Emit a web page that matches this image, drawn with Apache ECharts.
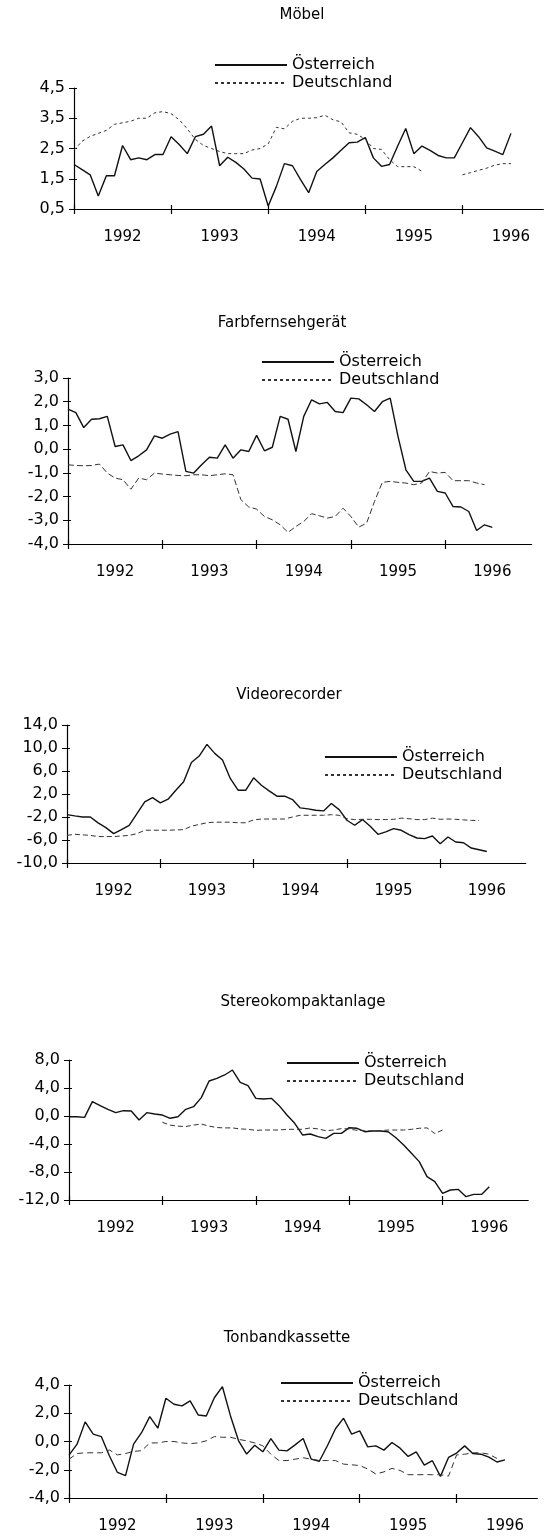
<!DOCTYPE html>
<html>
<head>
<meta charset="utf-8">
<script src="https://cdn.jsdelivr.net/npm/echarts@6/dist/echarts.min.js"></script>
<style>
html, body { margin: 0; background: #fff; }
#chart { width: 546px; height: 1538px; }
</style>
</head>
<body>
<div id="chart"></div>
<script>
const years = ['1992', '1993', '1994', '1995', '1996'];
const legendNames = ['Österreich', 'Deutschland'];
const titles = ['Möbel', 'Farbfernsehgerät', 'Videorecorder', 'Stereokompaktanlage', 'Tonbandkassette'];

// y tick labels, bottom to top
const moebelTicks = ['0,5', '1,5', '2,5', '3,5', '4,5'];
const farbTicks = ['-4,0', '-3,0', '-2,0', '-1,0', '0,0', '1,0', '2,0', '3,0'];
const videoTicks = ['-10,0', '-6,0', '-2,0', '2,0', '6,0', '10,0', '14,0'];
const stereoTicks = ['-12,0', '-8,0', '-4,0', '0,0', '4,0', '8,0'];
const tonbandTicks = ['-4,0', '-2,0', '0,0', '2,0', '4,0'];

// monthly values from Jan 1992
const moebelAT = [1.97, 1.8, 1.63, 0.93, 1.6, 1.6, 2.6, 2.13, 2.19, 2.13, 2.3, 2.3, 2.89, 2.63, 2.33, 2.89, 2.97, 3.24, 1.93, 2.21, 2.04, 1.82, 1.52, 1.49, 0.6, 1.24, 2.0, 1.93, 1.47, 1.04, 1.74, 1.97, 2.19, 2.44, 2.69, 2.71, 2.86, 2.19, 1.91, 1.97, 2.58, 3.16, 2.33, 2.58, 2.44, 2.27, 2.19, 2.19, 2.69, 3.19, 2.89, 2.52, 2.41, 2.3, 3.0];
const moebelDE = [2.45, 2.74, 2.9, 3.0, 3.1, 3.3, 3.35, 3.4, 3.5, 3.5, 3.68, 3.72, 3.65, 3.45, 3.15, 2.8, 2.6, 2.5, 2.4, 2.33, 2.33, 2.33, 2.45, 2.5, 2.65, 3.2, 3.15, 3.4, 3.5, 3.5, 3.52, 3.6, 3.45, 3.38, 3.02, 2.97, 2.8, 2.5, 2.47, 2.13, 1.9, 1.9, 1.9, 1.75, null, null, null, null, 1.63, 1.7, 1.78, 1.85, 1.95, 2.0, 2.0];

const farbAT = [1.69, 1.54, 0.91, 1.26, 1.28, 1.38, 0.11, 0.18, -0.48, -0.28, -0.03, 0.56, 0.46, 0.63, 0.74, -0.94, -1.01, -0.66, -0.34, -0.38, 0.18, -0.38, -0.03, -0.1, 0.58, -0.07, 0.08, 1.38, 1.26, -0.1, 1.38, 2.08, 1.91, 1.97, 1.59, 1.54, 2.15, 2.12, 1.87, 1.59, 2.0, 2.15, 0.53, -0.87, -1.36, -1.36, -1.22, -1.78, -1.85, -2.42, -2.44, -2.63, -3.43, -3.19, -3.3];
const farbDE = [-0.66, -0.69, -0.7, -0.69, -0.63, -1.01, -1.22, -1.29, -1.69, -1.22, -1.29, -1.01, -1.05, -1.08, -1.11, -1.12, -1.08, -1.08, -1.12, -1.08, -1.04, -1.08, -2.13, -2.44, -2.53, -2.84, -2.98, -3.19, -3.51, -3.26, -3.05, -2.72, -2.81, -2.91, -2.84, -2.49, -2.84, -3.29, -3.12, -2.21, -1.4, -1.36, -1.4, -1.43, -1.5, -1.43, -0.94, -1.01, -0.98, -1.33, -1.33, -1.33, -1.43, -1.5];

const videoAT = [-1.58, -1.81, -1.99, -2.0, -3.03, -3.85, -4.9, -4.2, -3.44, -1.4, 0.63, 1.38, 0.45, 1.09, 2.66, 4.12, 7.49, 8.6, 10.63, 9.06, 7.9, 4.7, 2.66, 2.66, 4.81, 3.53, 2.55, 1.62, 1.62, 1.03, -0.42, -0.59, -0.83, -0.94, 0.34, -0.71, -2.57, -3.44, -2.45, -3.62, -5.01, -4.6, -4.02, -4.31, -5.07, -5.65, -5.77, -5.3, -6.64, -5.48, -6.35, -6.47, -7.4, -7.7, -8.0];
const videoDE = [-5.2, -5.0, -5.1, -5.2, -5.4, -5.4, -5.4, -5.3, -5.2, -4.9, -4.3, -4.3, -4.3, -4.3, -4.25, -4.2, -3.6, -3.3, -3.0, -2.9, -2.9, -2.9, -3.0, -3.0, -2.5, -2.35, -2.35, -2.35, -2.35, -2.0, -1.7, -1.7, -1.7, -1.7, -1.6, -1.7, -2.3, -2.45, -2.4, -2.4, -2.45, -2.45, -2.4, -2.2, -2.3, -2.45, -2.45, -2.2, -2.4, -2.35, -2.4, -2.5, -2.6, -2.6];

const stereoAT = [-0.1, -0.1, -0.2, 2.05, 1.48, 0.95, 0.48, 0.76, 0.71, -0.57, 0.48, 0.29, 0.14, -0.33, -0.1, 0.95, 1.33, 2.62, 5.0, 5.38, 5.86, 6.57, 4.81, 4.33, 2.52, 2.43, 2.52, 1.48, 0.14, -1.05, -2.71, -2.57, -2.95, -3.19, -2.48, -2.48, -1.67, -1.76, -2.24, -2.14, -2.14, -2.24, -3.1, -4.14, -5.33, -6.52, -8.67, -9.38, -11.05, -10.57, -10.48, -11.52, -11.2, -11.2, -10.1];
const stereoDE = [null, null, null, null, null, null, null, null, null, null, null, null, -0.9, -1.3, -1.45, -1.5, -1.3, -1.15, -1.45, -1.65, -1.7, -1.7, -1.85, -1.9, -2.05, -2.0, -2.0, -2.0, -1.9, -1.9, -1.9, -1.7, -1.85, -2.1, -2.0, -1.8, -1.85, -2.05, -2.1, -2.15, -2.1, -2.0, -2.0, -2.0, -1.9, -1.75, -1.7, -2.5, -2.0];

const tonbandAT = [-0.96, -0.19, 1.39, 0.52, 0.35, -1.01, -2.19, -2.42, -0.19, 0.64, 1.76, 0.94, 3.06, 2.64, 2.52, 2.87, 1.88, 1.81, 3.1, 3.88, 1.81, 0.05, -0.89, -0.26, -0.73, 0.21, -0.61, -0.66, -0.24, 0.21, -1.25, -1.4, -0.3, 0.9, 1.65, 0.52, 0.75, -0.38, -0.31, -0.61, -0.07, -0.47, -1.06, -0.73, -1.67, -1.36, -2.47, -1.13, -0.82, -0.31, -0.85, -0.9, -1.1, -1.45, -1.3];
const tonbandDE = [-1.25, -0.85, -0.8, -0.8, -0.8, -0.6, -0.95, -0.85, -0.7, -0.65, -0.1, -0.1, 0.0, 0.0, -0.1, -0.15, -0.1, 0.05, 0.35, 0.3, 0.3, 0.15, 0.05, -0.1, -0.3, -0.9, -1.35, -1.35, -1.25, -1.15, -1.25, -1.35, -1.35, -1.35, -1.6, -1.65, -1.7, -1.95, -2.3, -2.15, -1.9, -2.05, -2.35, -2.35, -2.35, -2.35, -2.35, -2.45, -0.95, -0.9, -0.8, -0.8, -0.9, -1.2];

const FONT = 'DejaVu Sans';

// placement of each panel on the page
const panels = [
  { at: moebelAT, de: moebelDE, ticks: moebelTicks, min: 0.5, max: 4.5, interval: 1,
    left: 74, top: 88, height: 121, perYear: 97.1, months: 58, title: [302, 15], legend: [214, 57], dash: [3, 3] },
  { at: farbAT, de: farbDE, ticks: farbTicks, min: -4, max: 3, interval: 1,
    left: 68, top: 378, height: 166, perYear: 94.3, months: 59, title: [282, 323], legend: [261, 354], dash: [6, 3] },
  { at: videoAT, de: videoDE, ticks: videoTicks, min: -10, max: 14, interval: 4,
    left: 67, top: 725, height: 138, perYear: 93.3, months: 59, title: [289, 695], legend: [324, 749], dash: [5, 3] },
  { at: stereoAT, de: stereoDE, ticks: stereoTicks, min: -12, max: 8, interval: 4,
    left: 69, top: 1060, height: 140, perYear: 93.4, months: 59, title: [303, 1002], legend: [286, 1055], dash: [5, 3] },
  { at: tonbandAT, de: tonbandDE, ticks: tonbandTicks, min: -4, max: 4, interval: 2,
    left: 69, top: 1385, height: 113, perYear: 96.9, months: 58, title: [287, 1338], legend: [280, 1375], dash: [6, 4] }
];

const yearTicks = years.map((y, i) => i * 12);
const yearLabelPos = years.map((y, i) => i * 12 + 6);
const toPoints = arr => arr.map((v, i) => [i, v]);

const grid = [], xAxis = [], yAxis = [], series = [], legend = [], graphic = [];

panels.forEach((p, k) => {
  grid.push({
    left: p.left, top: p.top, height: p.height,
    width: p.perYear / 12 * p.months
  });
  xAxis.push({
    gridIndex: k, type: 'value', position: 'bottom', min: 0, max: p.months,
    axisLine: { onZero: false, lineStyle: { color: '#000', width: 1.2 } },
    axisTick: { customValues: yearTicks, length: 5, lineStyle: { color: '#000', width: 1.2 } },
    axisLabel: {
      customValues: yearLabelPos, margin: 21, color: '#000', fontFamily: FONT, fontSize: 15,
      formatter: v => years[Math.round((v - 6) / 12)]
    },
    splitLine: { show: false }
  });
  // inner half of the crossing year ticks
  xAxis.push({
    gridIndex: k, type: 'value', position: 'bottom', min: 0, max: p.months,
    axisLine: { show: false, onZero: false },
    axisTick: { customValues: yearTicks, inside: true, length: 4, lineStyle: { color: '#000', width: 1.2 } },
    axisLabel: { show: false },
    splitLine: { show: false }
  });
  yAxis.push({
    gridIndex: k, type: 'value', position: 'left', min: p.min, max: p.max, interval: p.interval,
    axisLine: { show: true, onZero: false, lineStyle: { color: '#000', width: 1.2 } },
    axisTick: { show: true, length: 5, lineStyle: { color: '#000' } },
    axisLabel: {
      margin: 9, color: '#000', fontFamily: FONT, fontSize: 16,
      formatter: v => p.ticks[Math.round((v - p.min) / p.interval)]
    },
    splitLine: { show: false }
  });
  yAxis.push({
    gridIndex: k, type: 'value', position: 'left', min: p.min, max: p.max, interval: p.interval,
    axisLine: { show: false, onZero: false },
    axisTick: { show: true, inside: true, length: 3, lineStyle: { color: '#000' } },
    axisLabel: { show: false },
    splitLine: { show: false }
  });
  series.push({
    type: 'line', name: legendNames[0], xAxisIndex: k * 2, yAxisIndex: k * 2,
    data: toPoints(p.at), symbol: 'none',
    itemStyle: { color: '#111' },
    lineStyle: { color: '#111', width: 1.4 }
  });
  series.push({
    type: 'line', name: legendNames[1], xAxisIndex: k * 2, yAxisIndex: k * 2,
    data: toPoints(p.de), symbol: 'none',
    itemStyle: { color: '#333' },
    lineStyle: { color: '#333', width: 1, type: p.dash }
  });
  legend.push({
    left: p.legend[0], top: p.legend[1], orient: 'vertical', padding: 0,
    data: legendNames, itemWidth: 72, itemHeight: 14, itemGap: 2, selectedMode: false,
    itemStyle: { opacity: 0 },
    textStyle: { color: '#000', fontFamily: FONT, fontSize: 16 }
  });
  graphic.push({
    type: 'text', x: p.title[0], y: p.title[1],
    style: { text: titles[k], fill: '#000', font: '15px "' + FONT + '"', align: 'center', verticalAlign: 'middle' }
  });
});

const chart = echarts.init(document.getElementById('chart'), null, { renderer: 'canvas' });
chart.setOption({
  animation: false,
  backgroundColor: '#fff',
  grid, xAxis, yAxis, series, legend, graphic
});
</script>
</body>
</html>
